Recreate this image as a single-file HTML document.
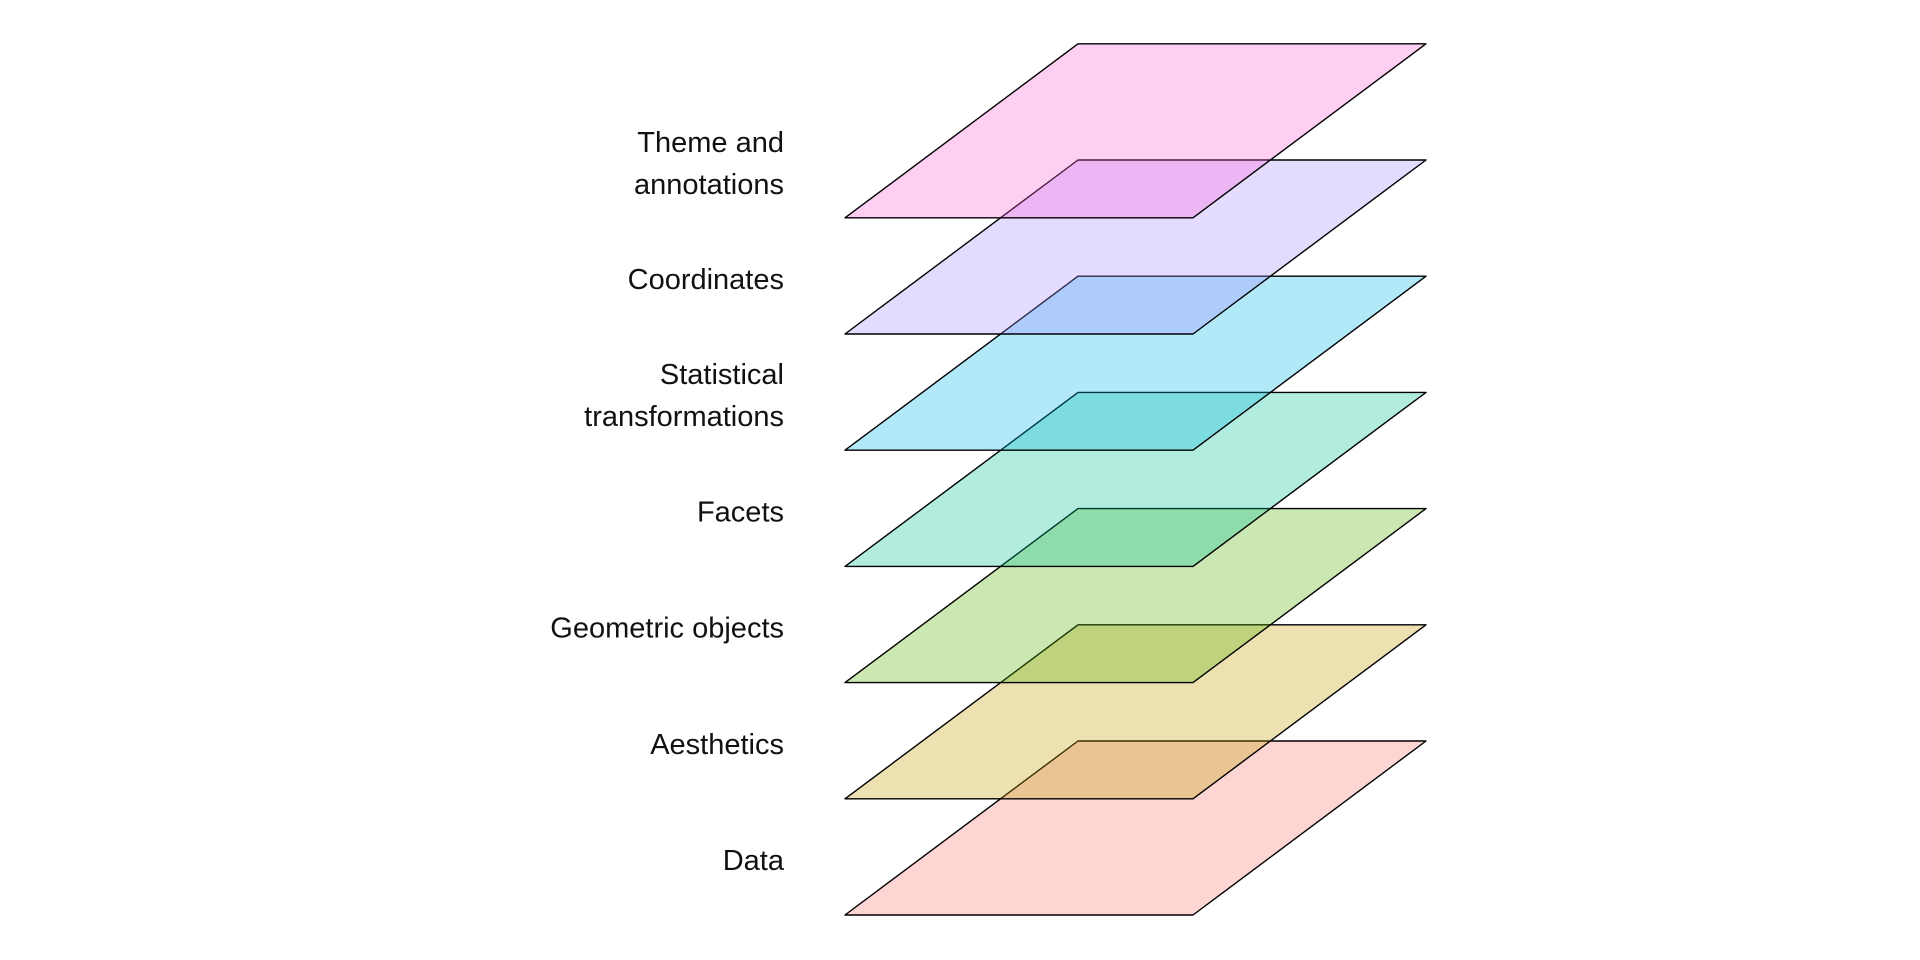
<!DOCTYPE html>
<html><head><meta charset="utf-8"><style>
html,body{margin:0;padding:0;background:#fff;}
svg{display:block;}
text{font-family:"Liberation Sans",Arial,sans-serif;font-size:29px;fill:#111;}
</style></head><body>
<svg id="chart" width="1920" height="960" viewBox="0 0 1920 960" xmlns="http://www.w3.org/2000/svg"></svg>
<script>
const layerLabels = [["Data"],["Aesthetics"],["Geometric objects"],["Facets"],["Statistical","transformations"],["Coordinates"],["Theme and","annotations"]];
const layerNames = ["data","aesthetics","geometric-objects","facets","statistical-transformations","coordinates","theme-and-annotations"];
const layerColors = ["#F8766D","#C49A00","#53B400","#00C094","#00B6EB","#A58AFF","#FB61D7"];
const layerIndex = [0,1,2,3,4,5,6];

const svg = document.getElementById('chart');
const NS = 'http://www.w3.org/2000/svg';
const baseY = 915, step = 116.2, depth = 174;
const x0 = 845, x1 = 1193, skew = 233;
function yOf(i){ return baseY - i*step; }

layerIndex.forEach(i=>{
  const yb = yOf(i), yt = yb - depth;
  const g = document.createElementNS(NS,'g');
  
  
  const p = document.createElementNS(NS,'polygon');
  p.setAttribute('points', `${x0},${yb} ${x1},${yb} ${x1+skew},${yt} ${x0+skew},${yt}`);
  p.setAttribute('fill', layerColors[i]);
  p.setAttribute('fill-opacity', '0.3');
  p.setAttribute('stroke', '#000');
  p.setAttribute('stroke-width', '1.4');
  p.setAttribute('stroke-linejoin', 'round');
  
  
  g.appendChild(p);
  const lines = layerLabels[i];
  const cy = yb - 55;
  const lh = 42;
  const t = document.createElementNS(NS,'text');
  t.setAttribute('text-anchor','end');
  
  
  lines.forEach((ln,k)=>{
    const ts = document.createElementNS(NS,'tspan');
    ts.setAttribute('x', 784);
    ts.setAttribute('y', cy + (k - (lines.length-1)/2)*lh + 10);
    ts.textContent = ln;
    t.appendChild(ts);
  });
  g.appendChild(t);
  svg.appendChild(g);
});
</script>
</body></html>
